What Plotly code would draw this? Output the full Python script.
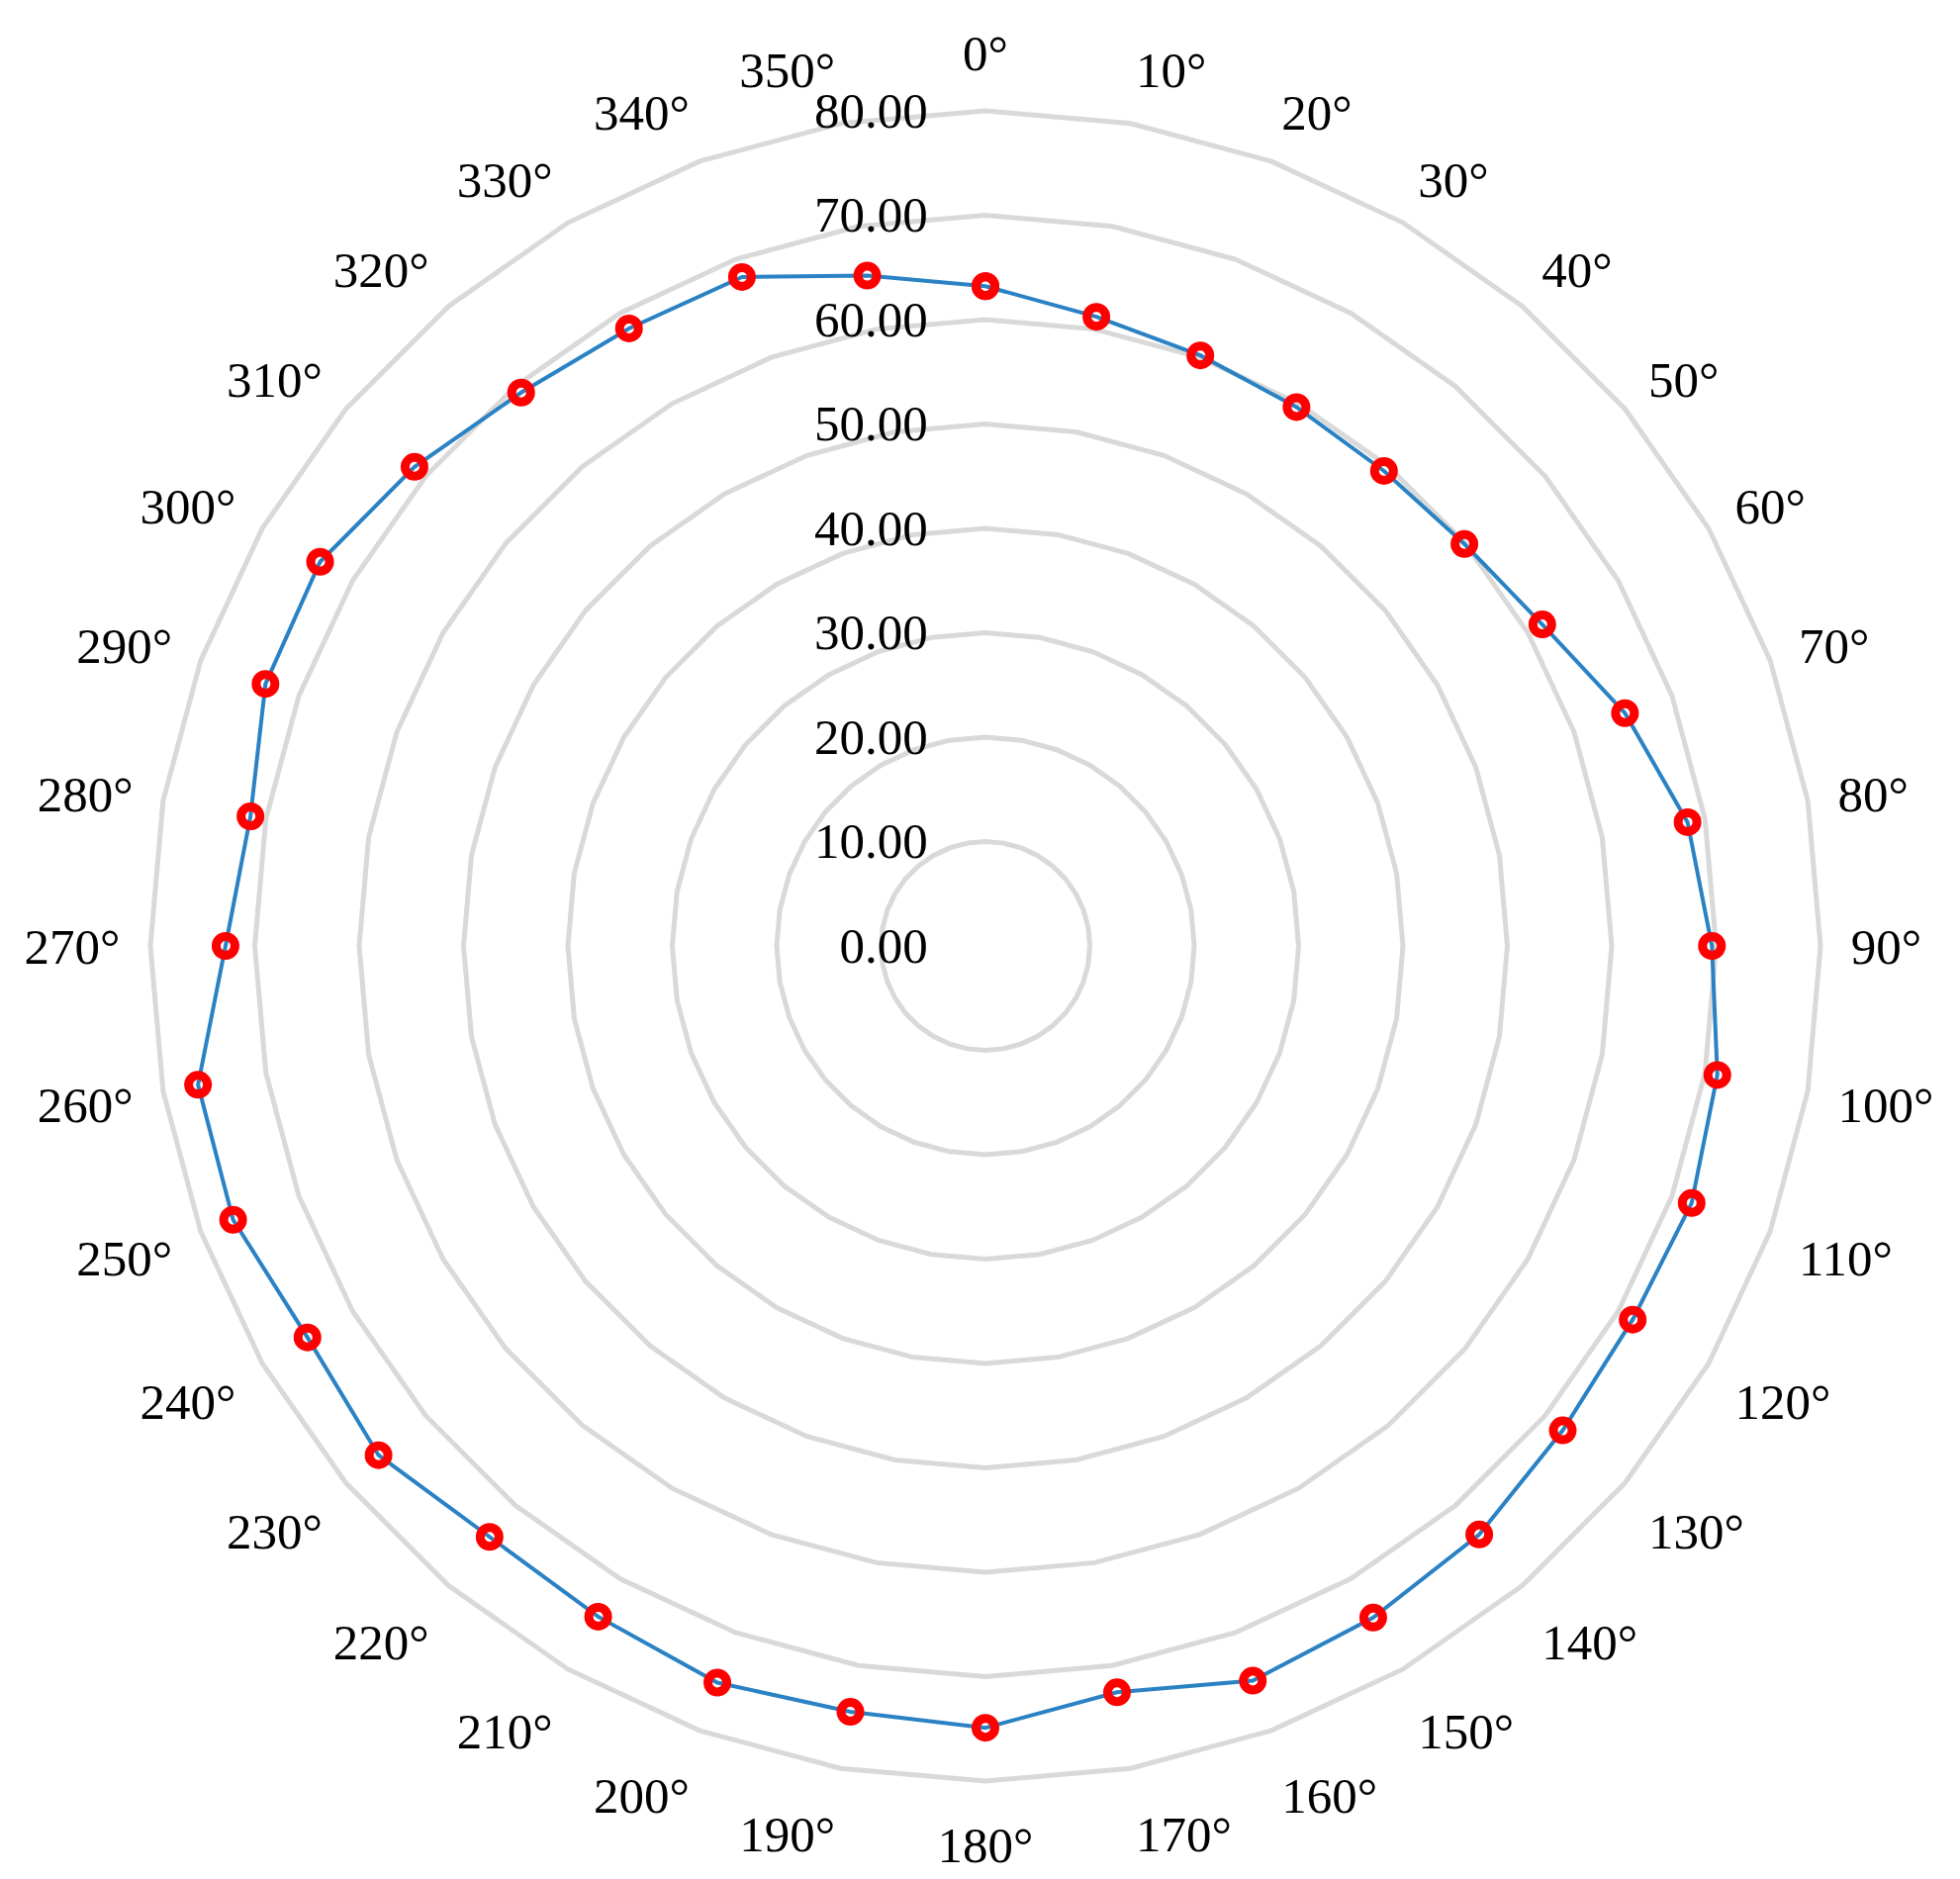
import plotly.graph_objects as go

# 각도 라벨과 반경 값
angles = [f"{a}°" for a in range(0, 360, 10)]
r = [63.2, 61.2, 60.2, 59.6, 59.4, 59.9, 61.6, 65.2, 68.3, 69.6, 71.2, 72.0,
     71.6, 72.2, 73.6, 74.3, 74.9, 72.6, 74.9, 74.5, 75.1, 74.2, 73.9, 75.9,
     75.0, 76.7, 76.6, 72.8, 71.5, 73.4, 73.6, 71.4, 69.2, 68.3, 68.2, 65.2]
radial_ticks = [0, 10, 20, 30, 40, 50, 60, 70, 80]

# 닫힌 곡선 (첫 점을 끝에 다시 붙임)
fig = go.Figure(go.Scatterpolar(
    r=r + r[:1],
    theta=angles + angles[:1],
    mode="lines+markers",
    line=dict(color="#2A82C4", width=4),
    marker=dict(symbol="circle-open", size=19, color="#FF0000",
                line=dict(width=9, color="#FF0000")),
))

fig.update_layout(
    width=1981, height=1899,
    margin=dict(l=143, r=148, t=104, b=107),
    paper_bgcolor="white",
    showlegend=False,
    font=dict(family="Liberation Serif", size=51, color="black"),
    polar=dict(
        bgcolor="white",
        gridshape="linear",
        angularaxis=dict(
            type="category", categoryarray=angles,
            rotation=90, direction="clockwise",
            showgrid=False,
            showline=True, linecolor="#D9D9D9", linewidth=5,
            ticks="outside", ticklen=18, tickcolor="rgba(0,0,0,0)",
        ),
        radialaxis=dict(
            range=[0, 80], tickvals=radial_ticks, tickformat=".2f",
            angle=90, tickangle=90, side="counterclockwise",
            showline=False,
            ticks="outside", ticklen=40, tickcolor="rgba(0,0,0,0)",
            gridcolor="#D9D9D9", gridwidth=5,
        ),
    ),
)

fig.write_html("out.html")
